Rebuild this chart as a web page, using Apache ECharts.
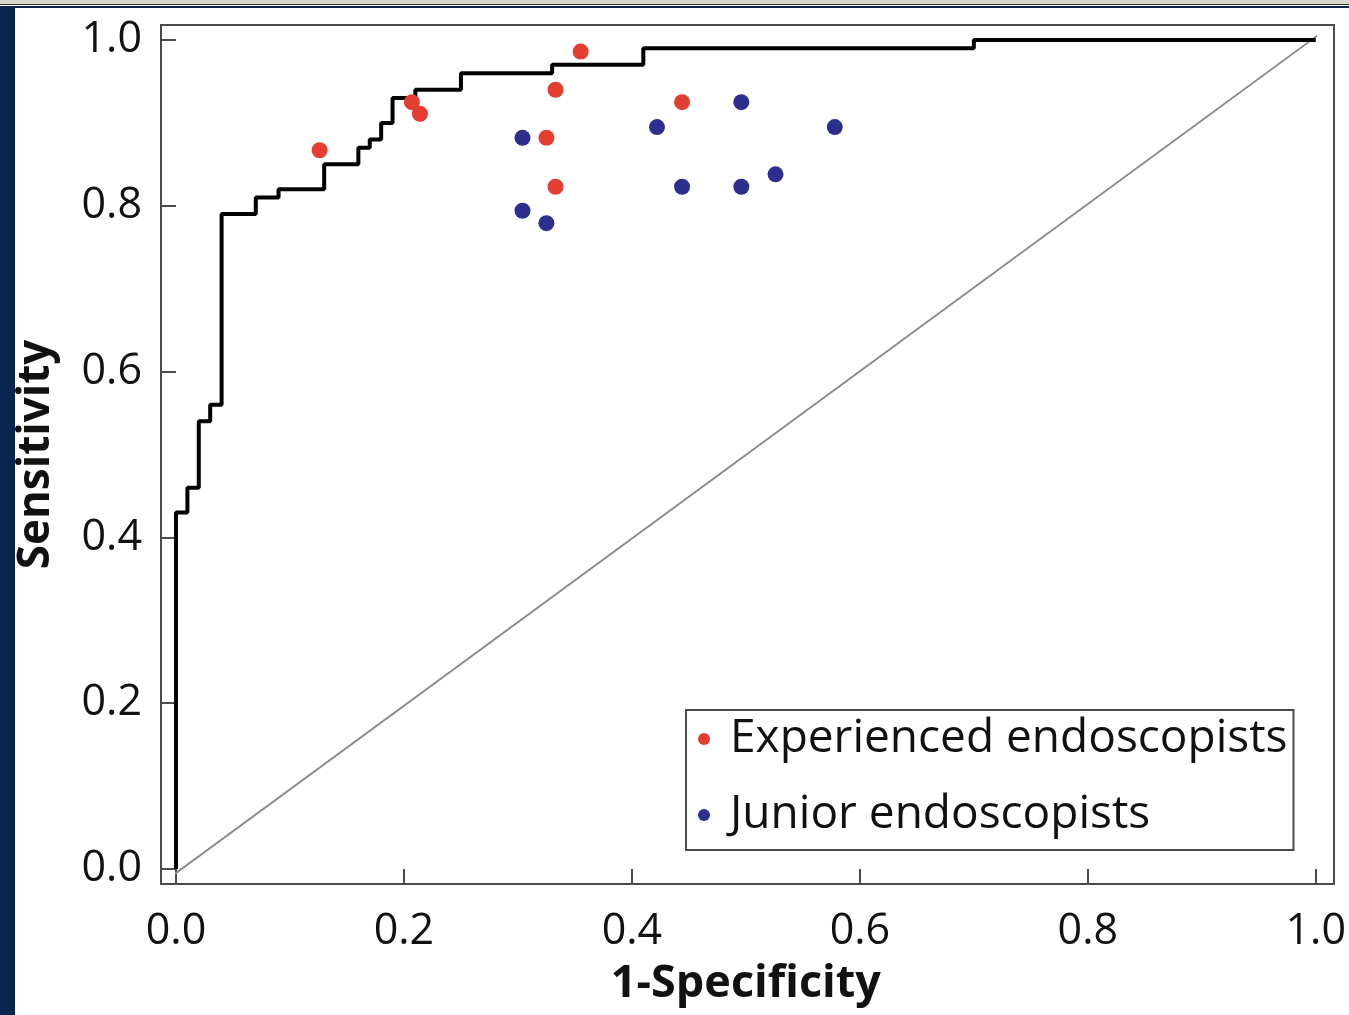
<!DOCTYPE html>
<html>
<head>
<meta charset="utf-8">
<title>ROC</title>
<script src="https://cdn.jsdelivr.net/npm/echarts@6/dist/echarts.min.js"></script>
<style>
  html, body { margin: 0; padding: 0; background: #fff; }
  #wrap { position: relative; width: 1349px; height: 1015px; overflow: hidden; }
  .top-strip { position: absolute; left: 0; top: 0; width: 1349px; height: 4px; background: #d9d9cc; border-bottom: 1px solid #333; }
  .top-line { position: absolute; left: 0; top: 6px; width: 1349px; height: 2px; background: #0a2550; }
  .side-bar { position: absolute; left: 0; top: 8px; width: 15px; height: 1007px; background: #0a2550; }
  #chart { position: absolute; left: 0; top: 0; width: 1349px; height: 1015px; }
</style>
</head>
<body>
<div id="wrap">
  <div id="chart"></div>
  <div class="top-strip"></div>
  <div class="top-line"></div>
  <div class="side-bar"></div>
</div>
<script>
// ROC curve corners (1-specificity, sensitivity), drawn as a step line
const rocX = [0, 0, 0.01, 0.02, 0.03, 0.04, 0.07, 0.09, 0.13, 0.16, 0.17, 0.18, 0.19, 0.21, 0.25, 0.33, 0.41, 0.70, 1.0]
const rocY = [0, 0.43, 0.46, 0.54, 0.56, 0.79, 0.81, 0.82, 0.85, 0.87, 0.88, 0.90, 0.93, 0.94, 0.96, 0.97, 0.99, 1.0, 1.0]

// chance line, corner to corner of the frame
const diagX = [-0.013, 1.014]
const diagY = [-0.018, 1.018]

const expX = [0.126, 0.207, 0.214, 0.325, 0.333, 0.333, 0.355, 0.444]
const expY = [0.867, 0.925, 0.911, 0.882, 0.940, 0.823, 0.986, 0.925]

const junX = [0.304, 0.304, 0.325, 0.422, 0.444, 0.496, 0.496, 0.526, 0.578]
const junY = [0.882, 0.794, 0.779, 0.895, 0.823, 0.925, 0.823, 0.838, 0.895]

const tickVals = [0, 0.2, 0.4, 0.6, 0.8, 1.0]

const FONT = '"Open Sans", "Noto Sans", sans-serif'
const AXIS_GRAY = '#4a4a4a'

const zip = (xs, ys) => xs.map((x, i) => [x, ys[i]])

function axisBase(name, gap, nameSize) {
  return {
    type: 'value',
    min: tickVals[0],
    max: tickVals[tickVals.length - 1],
    interval: 0.2,
    offset: 15,
    name,
    nameLocation: 'middle',
    nameGap: gap,
    nameTextStyle: { fontFamily: FONT, fontSize: nameSize, fontWeight: 'bold', color: '#111' },
    axisLine: { show: false },
    axisTick: { show: true, length: 14, lineStyle: { color: AXIS_GRAY, width: 2 } },
    splitLine: { show: false },
  }
}

const chart = echarts.init(document.getElementById('chart'), null, { renderer: 'canvas' })

chart.setOption({
  animation: false,
  grid: [
    { left: 176, right: 30, top: 40, bottom: 146 },
    { left: 161, right: 15, top: 25, bottom: 131, show: true, borderColor: AXIS_GRAY, borderWidth: 2, backgroundColor: 'transparent' },
  ],
  xAxis: [
    Object.assign(axisBase('1-Specificity', 78, 45), {
      gridIndex: 0,
      axisLabel: { margin: 26, fontFamily: FONT, fontSize: 43, color: '#111', formatter: v => v.toFixed(1) },
    }),
    { gridIndex: 1, type: 'value', min: 0, max: 1, show: false },
  ],
  yAxis: [
    Object.assign(axisBase('Sensitivity', 103, 44), {
      gridIndex: 0,
      axisLabel: { margin: 19, fontFamily: FONT, fontSize: 43, color: '#111', formatter: v => v.toFixed(1) },
    }),
    { gridIndex: 1, type: 'value', min: 0, max: 1, show: false },
  ],
  legend: {
    data: ['Experienced endoscopists', 'Junior endoscopists'],
    orient: 'vertical',
    left: 686,
    top: 710,
    padding: [4, 6, 10, 12],
    itemGap: 26,
    itemWidth: 12,
    itemHeight: 12,
    icon: 'circle',
    borderColor: AXIS_GRAY,
    borderWidth: 2,
    selectedMode: false,
    textStyle: { fontFamily: FONT, fontSize: 46, color: '#111', lineHeight: 50, padding: [0, 0, 0, 15] },
  },
  series: [
    {
      name: 'chance',
      type: 'line',
      data: zip(diagX, diagY),
      symbol: 'none',
      clip: false,
      silent: true,
      lineStyle: { color: '#8c8c8c', width: 2 },
      z: 1,
    },
    {
      name: 'ROC',
      type: 'line',
      step: 'end',
      data: zip(rocX, rocY),
      symbol: 'none',
      clip: false,
      silent: true,
      lineStyle: { color: '#000', width: 4 },
      z: 2,
    },
    {
      name: 'Experienced endoscopists',
      type: 'scatter',
      data: zip(expX, expY),
      symbolSize: 16,
      itemStyle: { color: '#e43d31', opacity: 1 },
      z: 3,
    },
    {
      name: 'Junior endoscopists',
      type: 'scatter',
      data: zip(junX, junY),
      symbolSize: 16,
      itemStyle: { color: '#2c2f8e', opacity: 1 },
      z: 3,
    },
  ],
})
</script>
</body>
</html>
